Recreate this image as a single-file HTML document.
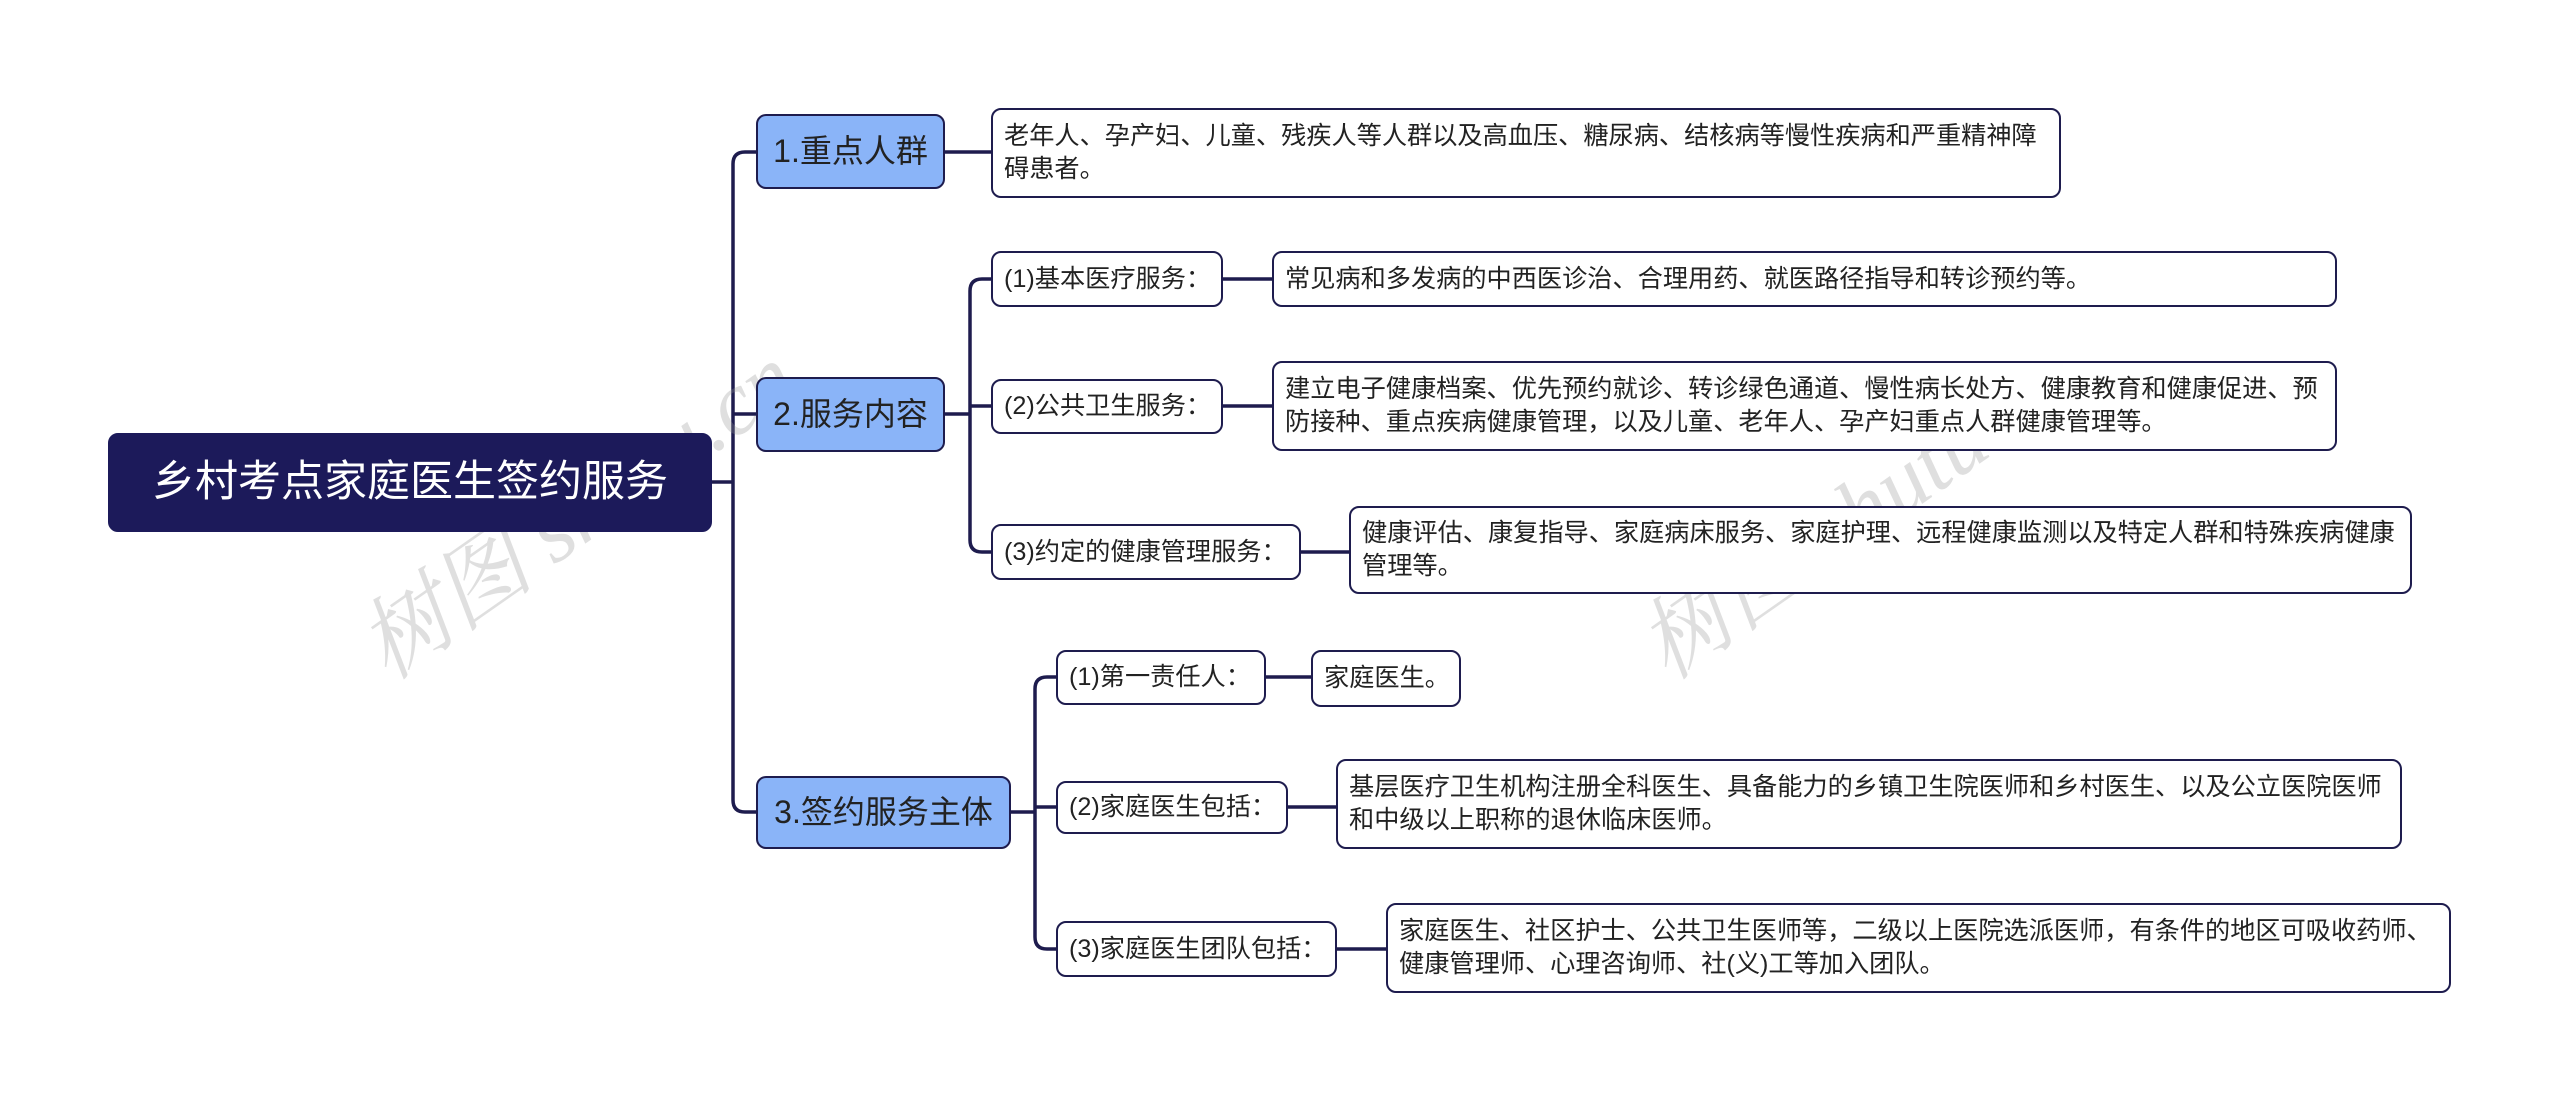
<!DOCTYPE html>
<html><head><meta charset="utf-8"><style>
body{margin:0;width:2560px;height:1102px;background:#fff;position:relative;overflow:hidden;font-family:"Liberation Sans","Noto Sans CJK SC",sans-serif;}
.n{position:absolute;box-sizing:border-box;border:2.5px solid #1e1c4e;border-radius:10px;background:#fff;color:#222;font-size:25.2px;line-height:33px;padding:0 11px;display:flex;align-items:center;}
.s{white-space:nowrap;}
.l1{background:#8ab4f8;font-size:32px;justify-content:center;padding:0;white-space:nowrap;}
.root{background:#1c1a5a;color:#fff;font-size:43px;justify-content:center;border-color:#1c1a5a;white-space:nowrap;}
.wm{position:absolute;font-size:90px;color:rgba(150,150,150,0.3);transform:rotate(-35deg);font-family:"Liberation Serif","Noto Serif CJK SC",serif;font-style:italic;white-space:nowrap;}
</style></head><body>
<svg width="2560" height="1102" style="position:absolute;left:0;top:0" fill="none" stroke="#1e1c4e" stroke-width="3.5">
<path d="M712 482 H733"/>
<path d="M756 152 H745 Q733 152 733 164 V800 Q733 812 745 812 H756"/>
<path d="M733 414 H756"/>
<path d="M945 152 H991"/>
<path d="M945 414 H970"/>
<path d="M991 279 H982 Q970 279 970 291 V540 Q970 552 982 552 H991"/>
<path d="M970 406 H991"/>
<path d="M1223 279 H1272"/><path d="M1223 406 H1272"/><path d="M1301 552 H1349"/>
<path d="M1011 812 H1035"/>
<path d="M1056 677 H1047 Q1035 677 1035 689 V937 Q1035 949 1047 949 H1056"/>
<path d="M1035 807 H1056"/>
<path d="M1266 677 H1311"/><path d="M1288 807 H1336"/><path d="M1337 949 H1386"/>
</svg>
<div class="wm" style="left:320px;top:440px">树图 shutu.cn</div>
<div class="wm" style="left:1600px;top:440px">树图 shutu.cn</div>
<div class="n root" style="left:108px;top:433px;width:604px;height:99px">乡村考点家庭医生签约服务</div>
<div class="n l1" style="left:756px;top:114px;width:189px;height:75px">1.重点人群</div>
<div class="n l1" style="left:756px;top:377px;width:189px;height:75px">2.服务内容</div>
<div class="n l1" style="left:756px;top:776px;width:255px;height:73px">3.签约服务主体</div>
<div class="n" style="left:991px;top:108px;width:1070px;height:90px">老年人、孕产妇、儿童、残疾人等人群以及高血压、糖尿病、结核病等慢性疾病和严重精神障碍患者。</div>
<div class="n s" style="left:991px;top:251px;width:232px;height:56px">(1)基本医疗服务：</div>
<div class="n s" style="left:991px;top:379px;width:232px;height:55px">(2)公共卫生服务：</div>
<div class="n s" style="left:991px;top:524px;width:310px;height:56px">(3)约定的健康管理服务：</div>
<div class="n" style="left:1272px;top:251px;width:1065px;height:56px">常见病和多发病的中西医诊治、合理用药、就医路径指导和转诊预约等。</div>
<div class="n" style="left:1272px;top:361px;width:1065px;height:90px">建立电子健康档案、优先预约就诊、转诊绿色通道、慢性病长处方、健康教育和健康促进、预防接种、重点疾病健康管理，以及儿童、老年人、孕产妇重点人群健康管理等。</div>
<div class="n" style="left:1349px;top:506px;width:1063px;height:88px">健康评估、康复指导、家庭病床服务、家庭护理、远程健康监测以及特定人群和特殊疾病健康管理等。</div>
<div class="n s" style="left:1056px;top:650px;width:210px;height:55px">(1)第一责任人：</div>
<div class="n s" style="left:1056px;top:781px;width:232px;height:53px">(2)家庭医生包括：</div>
<div class="n s" style="left:1056px;top:921px;width:281px;height:56px">(3)家庭医生团队包括：</div>
<div class="n s" style="left:1311px;top:650px;width:150px;height:57px">家庭医生。</div>
<div class="n" style="left:1336px;top:759px;width:1066px;height:90px">基层医疗卫生机构注册全科医生、具备能力的乡镇卫生院医师和乡村医生、以及公立医院医师和中级以上职称的退休临床医师。</div>
<div class="n" style="left:1386px;top:903px;width:1065px;height:90px">家庭医生、社区护士、公共卫生医师等，二级以上医院选派医师，有条件的地区可吸收药师、健康管理师、心理咨询师、社(义)工等加入团队。</div>
</body></html>
